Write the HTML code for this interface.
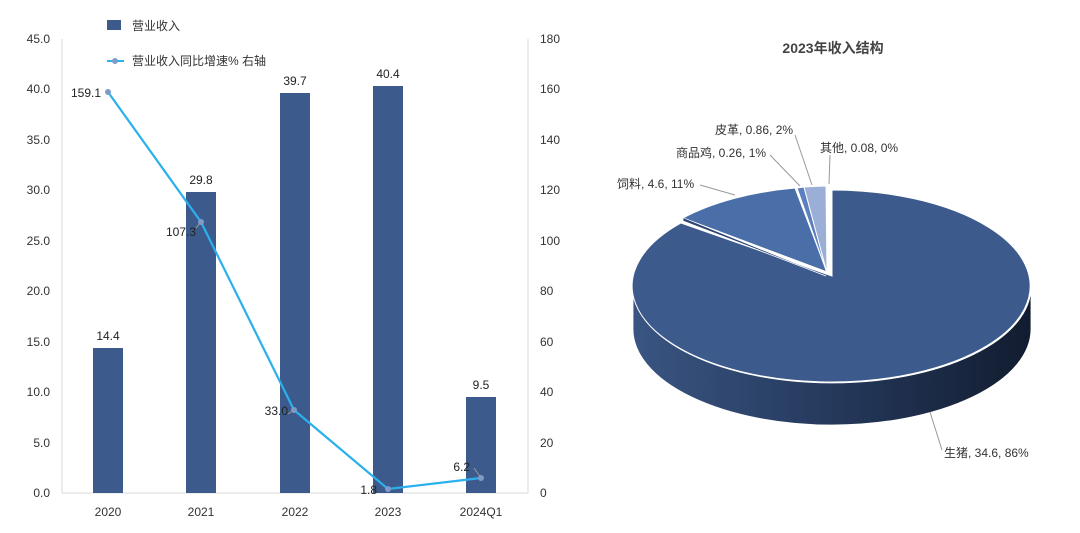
<!DOCTYPE html>
<html><head><meta charset="utf-8"><style>
body{margin:0;background:#fff;}
svg text{font-family:"Liberation Sans","Noto Sans CJK SC",sans-serif;}
</style></head><body>
<svg width="1080" height="528" viewBox="0 0 1080 528" xmlns="http://www.w3.org/2000/svg">
<defs>
<linearGradient id="side" x1="0" x2="1" y1="0" y2="0">
<stop offset="0" stop-color="#3a5582"/><stop offset="0.5" stop-color="#25395c"/><stop offset="1" stop-color="#121c30"/>
</linearGradient>
</defs>
<g font-size="12" fill="#333">
<line x1="62" y1="39" x2="62" y2="493" stroke="#d9d9d9"/>
<line x1="528" y1="39" x2="528" y2="493" stroke="#d9d9d9"/>
<line x1="62" y1="493" x2="528" y2="493" stroke="#d9d9d9"/>
<g text-anchor="end">
<text x="50" y="497">0.0</text><text x="50" y="447">5.0</text><text x="50" y="396">10.0</text>
<text x="50" y="346">15.0</text><text x="50" y="295">20.0</text><text x="50" y="245">25.0</text>
<text x="50" y="194">30.0</text><text x="50" y="144">35.0</text><text x="50" y="93">40.0</text><text x="50" y="43">45.0</text>
</g>
<g text-anchor="start">
<text x="540" y="497">0</text><text x="540" y="447">20</text><text x="540" y="396">40</text>
<text x="540" y="346">60</text><text x="540" y="295">80</text><text x="540" y="245">100</text>
<text x="540" y="194">120</text><text x="540" y="144">140</text><text x="540" y="93">160</text><text x="540" y="43">180</text>
</g>
<g text-anchor="middle">
<text x="108" y="516">2020</text><text x="201" y="516">2021</text><text x="295" y="516">2022</text>
<text x="388" y="516">2023</text><text x="481" y="516">2024Q1</text>
</g>
</g>
<g fill="#3d5a8c">
<rect x="93" y="348" width="30" height="145"/>
<rect x="186" y="192" width="30" height="301"/>
<rect x="280" y="93" width="30" height="400"/>
<rect x="373" y="86" width="30" height="407"/>
<rect x="466" y="397" width="30" height="96"/>
</g>
<g font-size="12" fill="#222" text-anchor="middle">
<text x="108" y="340">14.4</text><text x="201" y="184">29.8</text><text x="295" y="85">39.7</text>
<text x="388" y="78">40.4</text><text x="481" y="389">9.5</text>
</g>
<polyline points="108,92 201,222 294,410 388,489 481,478" fill="none" stroke="#2ab0ec" stroke-width="2.2"/>
<g fill="#7d9ccc"><circle cx="108" cy="92" r="3"/><circle cx="201" cy="222" r="3"/><circle cx="294" cy="410" r="3"/><circle cx="388" cy="489" r="3"/><circle cx="481" cy="478" r="3"/></g>
<g stroke="#999" fill="none"><path d="M196,228 L201,222"/><path d="M288,414 L294,410"/><path d="M474,468 L481,478"/></g>
<g font-size="12" fill="#222" text-anchor="end">
<text x="101" y="97">159.1</text><text x="196" y="236">107.3</text><text x="288" y="415">33.0</text>
<text x="377" y="494">1.8</text><text x="470" y="471">6.2</text>
</g>
<rect x="107" y="20" width="14" height="10" fill="#3d5a8c"/>
<text x="132" y="30" font-size="12" fill="#333">营业收入</text>
<line x1="107" y1="61" x2="124" y2="61" stroke="#2ab0ec" stroke-width="2"/><circle cx="115" cy="61" r="3" fill="#7d9ccc"/>
<text x="132" y="65" font-size="12" fill="#333">营业收入同比增速% 右轴</text>
<text x="833" y="53" font-size="14" font-weight="bold" fill="#444" text-anchor="middle">2023年收入结构</text>
<path d="M633,287 L633,329 A199,96 0 0 0 1031,329 L1031,287 A199,96 0 0 1 633,287 Z" fill="url(#side)" stroke="#fff" stroke-width="0.8"/>
<path d="M832,276 L832,190 A199,96 0 1 1 681,223 Z" fill="#3d5a8c" stroke="#fff" stroke-width="1"/>
<path d="M827,272 L683,218 A199,96 0 0 1 795,188 Z" fill="#4a6ea8" stroke="#fff" stroke-width="1"/>
<path d="M683,218 L683,221 L826,276" fill="#2c4470" stroke="#fff" stroke-width="0.8"/>
<path d="M827,273 L797,188 A199,96 0 0 1 804,187 Z" fill="#5b7fbf" stroke="#fff" stroke-width="1"/>
<path d="M827,273 L804,187 A199,96 0 0 1 826,186 Z" fill="#9aaed6" stroke="#fff" stroke-width="1"/>
<g stroke="#999" fill="none" stroke-width="1">
<path d="M700,185 L735,195"/><path d="M770,155 L800,186"/><path d="M795,135 L812,185"/><path d="M830,155 L829,184"/>
<path d="M930,412 L942,450"/>
</g>
<g font-size="12" fill="#333">
<text x="617" y="188">饲料, 4.6, 11%</text>
<text x="676" y="157">商品鸡, 0.26, 1%</text>
<text x="715" y="134">皮革, 0.86, 2%</text>
<text x="820" y="152">其他, 0.08, 0%</text>
<text x="944" y="457">生猪, 34.6, 86%</text>
</g>
</svg>
</body></html>
